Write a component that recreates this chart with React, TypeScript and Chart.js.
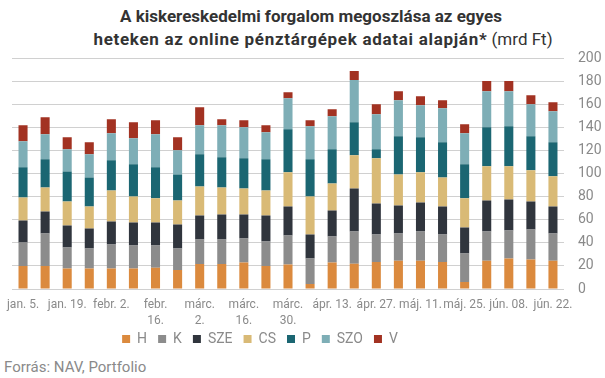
import React, { useEffect, useRef } from 'react';
import { Chart, registerables } from 'chart.js';

Chart.register(...registerables);

const weeks = [
  'jan. 5.', 'jan. 12.', 'jan. 19.', 'jan. 26.', 'febr. 2.', 'febr. 9.', 'febr. 16.', 'febr. 23.',
  'márc. 2.', 'márc. 9.', 'márc. 16.', 'márc. 23.', 'márc. 30.', 'ápr. 6.', 'ápr. 13.', 'ápr. 20.',
  'ápr. 27.', 'máj. 4.', 'máj. 11.', 'máj. 18.', 'máj. 25.', 'jún. 1.', 'jún. 08.', 'jún. 15.', 'jún. 22.',
];

// Shown tick labels (every other week), wrapped as in the original
const tickLabels: (string | string[])[] = [
  'jan. 5.', 'jan. 19.', 'febr. 2.', ['febr.', '16.'], ['márc.', '2.'], ['márc.', '16.'], ['márc.', '30.'],
  'ápr. 13.', 'ápr. 27.', 'máj. 11.', 'máj. 25.', 'jún. 08.', 'jún. 22.',
];

const seriesNames = ['H', 'K', 'SZE', 'CS', 'P', 'SZO', 'V'];
const seriesColors = ['#DB8A3E', '#8C8C8C', '#30353D', '#D9BA76', '#1B6672', '#7EAEB6', '#A23222'];

const H = [20, 20, 17.7, 17.7, 17.7, 17.7, 18.5, 16.5, 21.7, 21.7, 22.9, 20, 21.2, 4.3, 22.9, 22, 23.5, 24.6, 24.6, 23.5, 6.1, 24.6, 26.4, 25.5, 24.6];
const K = [20.3, 28.1, 18.2, 17.4, 20.9, 20, 19.2, 18.6, 21.2, 21.2, 20.9, 21.2, 25.2, 22.1, 22.6, 27.9, 23.7, 23.5, 25.3, 23.7, 24.6, 25.3, 24.3, 26.1, 23.5];
const SZE = [19.1, 19.1, 19.2, 17.4, 20, 20, 20, 20.8, 20.9, 21.7, 20.8, 22.6, 25.2, 20.8, 22.6, 37.3, 27, 24.4, 25.2, 24.4, 22.6, 26.9, 27, 24.3, 23.5];
const CS = [20, 20.9, 20.8, 19.1, 26.9, 22.6, 20.9, 20.9, 25.2, 23.5, 22.6, 21.7, 29.6, 33.1, 23.5, 28.7, 39.1, 26.9, 26.1, 25.2, 25.3, 29.6, 28.7, 27, 26.1];
const P = [26.1, 24.4, 26.1, 25.2, 26.1, 27.8, 26.9, 22.6, 27.8, 26.1, 26.1, 27, 37.4, 32.2, 29.6, 28.7, 7.9, 33.1, 30.4, 30.4, 29.5, 33.9, 34.8, 29.6, 29.5];
const SZO = [22.6, 21.7, 19.2, 20, 23.5, 22.6, 28.7, 20.9, 25.2, 27.8, 27, 23.4, 26.9, 28.7, 28.7, 36.6, 30.4, 31.3, 27.8, 29.6, 27, 31.3, 30.4, 27.8, 27];
const V = [13.9, 14.8, 10.4, 10.4, 12.1, 13.9, 12.2, 11.3, 15.7, 5.2, 6.1, 6.1, 5.2, 5.2, 6.1, 7.8, 8.7, 7.8, 7.8, 7, 7.8, 8.7, 8.7, 7.8, 7.8];

const seriesValues = [H, K, SZE, CS, P, SZO, V];

const GRAY = '#8A8A8A';

// Places the bottom legend at a fixed distance below the plot and slightly left, as in the original
const legendShift = {
  id: 'legendShift',
  afterLayout(chart: any) {
    const l = chart.legend;
    if (!l) return;
    const h = l.bottom - l.top;
    l.top = chart.chartArea.bottom + 32;
    l.bottom = l.top + h;
    l.left -= 28;
    l.right -= 28;
  },
};

export default function App() {
  const canvasRef = useRef<HTMLCanvasElement | null>(null);

  useEffect(() => {
    if (!canvasRef.current) return;
    const chart = new Chart(canvasRef.current, {
      type: 'bar',
      data: {
        labels: weeks,
        datasets: seriesNames.map((name, i) => ({
          label: name,
          data: seriesValues[i],
          backgroundColor: seriesColors[i],
          borderWidth: 0,
          barPercentage: 0.41,
          categoryPercentage: 1,
        })),
      },
      options: {
        animation: false,
        responsive: false,
        maintainAspectRatio: false,
        layout: { padding: { left: 12, right: 3, top: 0, bottom: 0 } },
        plugins: {
          legend: {
            position: 'bottom',
            fullSize: false,
            labels: {
              boxWidth: 8,
              boxHeight: 8,
              padding: 11,
              color: GRAY,
              font: { family: 'Roboto', size: 14 },
            },
          },
          tooltip: { enabled: false },
          title: { display: false },
        },
        scales: {
          x: {
            stacked: true,
            grid: { display: false },
            border: { display: false },
            ticks: {
              color: GRAY,
              font: { family: 'Roboto', size: 12, lineHeight: 1.35 },
              autoSkip: false,
              maxRotation: 0,
              minRotation: 0,
              padding: 0,
              callback: (_v: any, i: number) => (i % 2 === 0 ? tickLabels[i / 2] : ''),
            },
            afterFit: (s: any) => {
              s.height = 44;
            },
          },
          y: {
            stacked: true,
            position: 'right',
            min: 0,
            max: 200,
            grid: { color: '#D0D0D0', lineWidth: 1, drawTicks: false },
            border: { display: false },
            ticks: {
              stepSize: 20,
              autoSkip: false,
              color: GRAY,
              font: { family: 'Roboto', size: 14 },
              padding: 14,
            },
            afterFit: (s: any) => {
              s.width = 38;
            },
          },
        },
      },
      plugins: [legendShift],
    });
    return () => chart.destroy();
  }, []);

  const titleBase: React.CSSProperties = {
    position: 'absolute',
    left: 0,
    textAlign: 'center',
    fontFamily: 'Roboto',
    fontSize: 17,
    lineHeight: '23px',
    color: '#333333',
    fontWeight: 700,
    whiteSpace: 'nowrap',
  };

  return (
    <div style={{ position: 'fixed', left: 0, top: 0, width: 605, height: 378, background: '#fff', overflow: 'hidden' }}>
      <div style={{ ...titleBase, top: 5, width: 622 }}>A kiskereskedelmi forgalom megoszlása az egyes</div>
      <div style={{ ...titleBase, top: 28, width: 646 }}>
        <span style={{ letterSpacing: '0.7px' }}>heteken az online pénztárgépek adatai alapján*</span>{' '}
        <span style={{ fontWeight: 400 }}>(mrd Ft)</span>
      </div>
      <div
        style={{
          position: 'absolute',
          left: 4,
          top: 360,
          fontFamily: 'Roboto',
          fontSize: 15,
          lineHeight: '15px',
          color: GRAY,
          whiteSpace: 'nowrap',
        }}
      >
        Forrás: NAV, Portfolio
      </div>
      <canvas ref={canvasRef} width={605} height={332} style={{ position: 'absolute', left: 0, top: 36, width: 605, height: 332 }} />
    </div>
  );
}
